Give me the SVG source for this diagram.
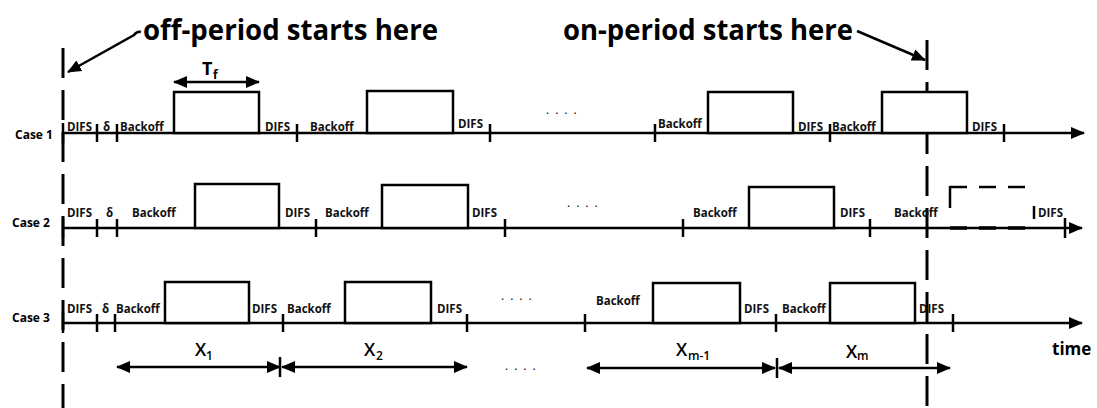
<svg xmlns="http://www.w3.org/2000/svg" width="1097" height="408" viewBox="0 0 1097 408">
<style>
.ax{stroke:#000;stroke-width:2.5;fill:none}
.tk{stroke:#000;stroke-width:2.5}
.box{stroke:#000;stroke-width:2.5;fill:#fff}
.dv{stroke:#000;stroke-width:3;stroke-dasharray:30 12;fill:none}
.dim{stroke:#000;stroke-width:2.5;fill:none}
.l{font-family:"Open Sans","Noto Sans",sans-serif;font-weight:bold;font-size:11.5px;fill:#111}
.c{font-family:"Open Sans","Noto Sans",sans-serif;font-weight:bold;font-size:12px;fill:#000}
.t{font-family:"Open Sans","Noto Sans",sans-serif;font-weight:bold;font-size:28px;fill:#000}
.x{font-family:"Open Sans","Noto Sans",sans-serif;font-weight:600;font-size:18px;fill:#000}
.xs{font-family:"Open Sans","Noto Sans",sans-serif;font-weight:600;font-size:12px;fill:#000}
.d{font-family:"Open Sans","Noto Sans",sans-serif;font-size:12px;fill:#000;letter-spacing:6px}
</style>
<defs>
<marker id="ah" markerUnits="userSpaceOnUse" markerWidth="14" markerHeight="12" refX="13" refY="6" orient="auto-start-reverse">
<path d="M0,0 L14,6 L0,12 z" fill="#000"/>
</marker>
<marker id="ax" markerUnits="userSpaceOnUse" markerWidth="14" markerHeight="12" refX="13" refY="6" orient="auto">
<path d="M0,0 L14,6 L0,12 z" fill="#000"/>
</marker>
</defs>
<rect width="1097" height="408" fill="#fff"/>

<g id="titles">
<text class="t" x="143" y="40" textLength="295" lengthAdjust="spacingAndGlyphs">off-period starts here</text>
<text class="t" x="563" y="40" textLength="290" lengthAdjust="spacingAndGlyphs">on-period starts here</text>
</g>

<g id="markers-lines">
<line class="dv" x1="63" y1="48" x2="63" y2="408"/>
<line class="dv" x1="927" y1="40" x2="927" y2="408"/>
</g>

<g id="connectors">
<path class="dim" d="M141,32 Q137,31 134,35 L68,72" marker-end="url(#ah)"/>
<line class="dim" x1="857" y1="31" x2="925" y2="60" marker-end="url(#ah)"/>
<line class="dim" x1="174" y1="82" x2="259" y2="82" marker-start="url(#ah)" marker-end="url(#ah)"/>
<line class="dim" x1="117" y1="367" x2="280" y2="367" marker-start="url(#ah)" marker-end="url(#ah)"/>
<line class="dim" x1="282" y1="367" x2="467" y2="367" marker-start="url(#ah)" marker-end="url(#ah)"/>
<line class="dim" x1="587" y1="368" x2="775" y2="368" marker-start="url(#ah)" marker-end="url(#ah)"/>
<line class="dim" x1="779" y1="368" x2="950" y2="368" marker-start="url(#ah)" marker-end="url(#ah)"/>
<line class="tk" x1="280" y1="357" x2="280" y2="377"/>
<line class="tk" x1="777" y1="358" x2="777" y2="378"/>
</g>

<g id="case1">
<text class="c" x="15" y="139">Case 1</text>
<line class="ax" x1="63" y1="133" x2="1084" y2="133" marker-end="url(#ax)"/>
<g class="tk">
<line x1="63" y1="123" x2="63" y2="143"/><line x1="97" y1="124" x2="97" y2="142"/><line x1="117" y1="124" x2="117" y2="142"/>
<line x1="297" y1="124" x2="297" y2="142"/><line x1="490" y1="124" x2="490" y2="142"/><line x1="655" y1="124" x2="655" y2="142"/>
<line x1="830" y1="124" x2="830" y2="142"/><line x1="1004" y1="124" x2="1004" y2="142"/>
</g>
<rect class="box" x="174" y="92" width="85" height="41"/>
<rect class="box" x="367" y="91" width="86" height="42"/>
<rect class="box" x="708" y="92" width="85" height="41"/>
<rect class="box" x="882" y="92" width="85" height="41"/>
<text class="l" x="67" y="131">DIFS</text>
<text class="l" x="103" y="131">δ</text>
<text class="l" x="120" y="131">Backoff</text>
<text class="l" x="265" y="131">DIFS</text>
<text class="l" x="310" y="131">Backoff</text>
<text class="l" x="458" y="128">DIFS</text>
<text class="d" x="546" y="114">....</text>
<text class="l" x="658" y="128">Backoff</text>
<text class="l" x="798" y="131">DIFS</text>
<text class="l" x="832" y="131">Backoff</text>
<text class="l" x="972" y="131">DIFS</text>
<text class="x" x="202" y="75" style="font-weight:bold">T</text><text class="xs" x="213" y="79" style="font-weight:bold">f</text>
</g>

<g id="case2">
<text class="c" x="12" y="227">Case 2</text>
<line class="ax" x1="63" y1="228" x2="1082" y2="228" marker-end="url(#ax)"/>
<g class="tk">
<line x1="63" y1="218" x2="63" y2="238"/><line x1="97" y1="219" x2="97" y2="237"/><line x1="117" y1="219" x2="117" y2="237"/>
<line x1="316" y1="219" x2="316" y2="237"/><line x1="505" y1="219" x2="505" y2="237"/><line x1="683" y1="219" x2="683" y2="237"/>
<line x1="870" y1="219" x2="870" y2="237"/><line x1="1065" y1="218" x2="1065" y2="238"/>
</g>
<rect class="box" x="195" y="184" width="84" height="44"/>
<rect class="box" x="382" y="185" width="86" height="43"/>
<rect class="box" x="749" y="187" width="85" height="41"/>
<g class="tk" fill="none">
<line x1="950" y1="186" x2="950" y2="208"/>
<line x1="950" y1="187" x2="1034" y2="187" stroke-dasharray="17 12"/>
<line x1="950" y1="228" x2="1034" y2="228" stroke-width="3.5" stroke-dasharray="17 12"/>
<line x1="1034" y1="206" x2="1034" y2="219"/>
</g>
<text class="l" x="67" y="217">DIFS</text>
<text class="l" x="106" y="217">δ</text>
<text class="l" x="132" y="217">Backoff</text>
<text class="l" x="285" y="217">DIFS</text>
<text class="l" x="325" y="217">Backoff</text>
<text class="l" x="472" y="217">DIFS</text>
<text class="d" x="567" y="207">....</text>
<text class="l" x="693" y="217">Backoff</text>
<text class="l" x="840" y="217">DIFS</text>
<text class="l" x="894" y="217">Backoff</text>
<text class="l" x="1038" y="217">DIFS</text>
</g>

<g id="case3">
<text class="c" x="12" y="322">Case 3</text>
<line class="ax" x1="63" y1="323" x2="1082" y2="323" marker-end="url(#ax)"/>
<g class="tk">
<line x1="63" y1="313" x2="63" y2="333"/><line x1="97" y1="314" x2="97" y2="332"/><line x1="115" y1="314" x2="115" y2="332"/>
<line x1="283" y1="314" x2="283" y2="332"/><line x1="467" y1="314" x2="467" y2="332"/><line x1="585" y1="314" x2="585" y2="332"/>
<line x1="776" y1="314" x2="776" y2="332"/><line x1="953" y1="314" x2="953" y2="332"/>
</g>
<rect class="box" x="165" y="282" width="84" height="41"/>
<rect class="box" x="345" y="282" width="86" height="41"/>
<rect class="box" x="653" y="283" width="87" height="40"/>
<rect class="box" x="830" y="283" width="85" height="40"/>
<text class="l" x="67" y="313">DIFS</text>
<text class="l" x="102" y="313">δ</text>
<text class="l" x="116" y="313">Backoff</text>
<text class="l" x="252" y="313">DIFS</text>
<text class="l" x="287" y="313">Backoff</text>
<text class="l" x="437" y="313">DIFS</text>
<text class="d" x="501" y="300">....</text>
<text class="l" x="596" y="305">Backoff</text>
<text class="l" x="744" y="313">DIFS</text>
<text class="l" x="782" y="313">Backoff</text>
<text class="l" x="919" y="313">DIFS</text>
</g>

<g id="durations">
<text class="x" x="195" y="356">X</text><text class="xs" x="206" y="360">1</text>
<text class="x" x="364" y="356">X</text><text class="xs" x="376" y="360">2</text>
<text class="d" x="505" y="370">....</text>
<text class="x" x="676" y="356">X</text><text class="xs" x="688" y="360">m-1</text>
<text class="x" x="846" y="358">X</text><text class="xs" x="857" y="360">m</text>
<text class="c" x="1052" y="355" style="font-size:17px">time</text>
</g>
</svg>
